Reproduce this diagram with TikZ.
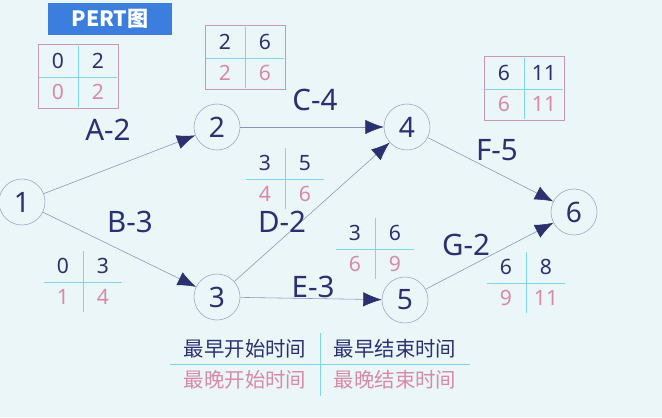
\documentclass[tikz,border=0pt]{standalone}
\usepackage{fontspec}
\setmainfont{Noto Sans}
\newfontfamily\cjk{Noto Sans CJK SC}
\usetikzlibrary{arrows.meta}
\definecolor{navy}{HTML}{2B3070}
\definecolor{ring}{HTML}{9AA2CC}
\definecolor{wire}{HTML}{8894C2}
\definecolor{grid}{HTML}{7FD6E6}
\definecolor{frame}{HTML}{C898B6}
\definecolor{late}{HTML}{D98AA6}
\definecolor{bg}{HTML}{EAF6F8}
\definecolor{titleblue}{HTML}{3B7EDD}
\begin{document}
\begin{tikzpicture}[
            x=0.025cm, y=-0.025cm,
            event/.style={draw=ring, circle, minimum size=1.15cm, inner sep=0pt,
                text=navy, font=\fontsize{20}{22}\selectfont},
            task/.style={-{Latex[length=4.6mm, width=3.6mm, color=navy]}, draw=wire, thin},
            tasklabel/.style={text=navy, font=\fontsize{21}{24}\selectfont},
            early/.style={text=navy, font=\fontsize{15}{17}\selectfont},
            lateness/.style={text=late, font=\fontsize{15}{17}\selectfont},
            gridline/.style={draw=grid, thin}
        ]
        \fill[bg] (0,0) rectangle (662,417);
        \useasboundingbox (0,0) rectangle (662,417);

        % title
        \node[fill=titleblue, text=white, minimum width=3.1cm, minimum height=0.8cm,
            font=\cjk\bfseries\fontsize{15}{17}\selectfont] (title) at (110,19) {PERT图};

        % events
        \node[event] (e1) at (22,202) {1};
        \node[event] (e2) at (217,127) {2};
        \node[event] (e3) at (217,297) {3};
        \node[event] (e4) at (407,127) {4};
        \node[event] (e5) at (405,300) {5};
        \node[event] (e6) at (574,212) {6};

        % tasks
        \draw[task] (e1) -- (e2);
        \draw[task] (e1) -- (e3);
        \draw[task] (e2) -- (e4);
        \draw[task] (e3) -- (e4);
        \draw[task] (e3) -- (e5);
        \draw[task] (e4) -- (e6);
        \draw[task] (e5) -- (e6);

        \node[tasklabel] (lA) at (108,130) {A-2};
        \node[tasklabel] (lB) at (130,222) {B-3};
        \node[tasklabel] (lC) at (315,100) {C-4};
        \node[tasklabel] (lD) at (282,222) {D-2};
        \node[tasklabel] (lE) at (313,287) {E-3};
        \node[tasklabel] (lF) at (497,150) {F-5};
        \node[tasklabel] (lG) at (466,245) {G-2};

        % time boxes: name/x/y/ES/EF/LS/LF/framed
        \foreach \n/\cx/\cy/\es/\ef/\ls/\lf/\framed in {
                t1/78/77/0/2/0/2/1, t2/245/58/2/6/2/6/1, t4/524/89/6/11/6/11/1,
                tB/83/282/0/3/1/4/0, tD/285/179/3/5/4/6/0,
                tE/375/249/3/6/6/9/0, tG/526/283/6/8/9/11/0} {
            \ifnum\framed=1
                \draw[frame] (\cx-40,\cy-33) rectangle (\cx+40,\cy+31);
            \fi
            \draw[gridline] (\cx-39,\cy) -- (\cx+39,\cy);
            \draw[gridline] (\cx,\cy-31) -- (\cx,\cy+30);
            \node[early] (\n es) at (\cx-20,\cy-16) {\es};
            \node[early] (\n ef) at (\cx+20,\cy-16) {\ef};
            \node[lateness] (\n ls) at (\cx-20,\cy+15) {\ls};
            \node[lateness] (\n lf) at (\cx+20,\cy+15) {\lf};
        }

        % legend
        \draw[gridline] (170,364) -- (470,364);
        \draw[gridline] (320,333) -- (320,396);
        \node[text=navy, font=\cjk\fontsize{14.5}{16}\selectfont] (legES) at (245,349) {最早开始时间};
        \node[text=navy, font=\cjk\fontsize{14.5}{16}\selectfont] (legEF) at (395,349) {最早结束时间};
        \node[text=late, font=\cjk\fontsize{14.5}{16}\selectfont] (legLS) at (245,380) {最晚开始时间};
        \node[text=late, font=\cjk\fontsize{14.5}{16}\selectfont] (legLF) at (395,380) {最晚结束时间};
    \end{tikzpicture}
\end{document}
